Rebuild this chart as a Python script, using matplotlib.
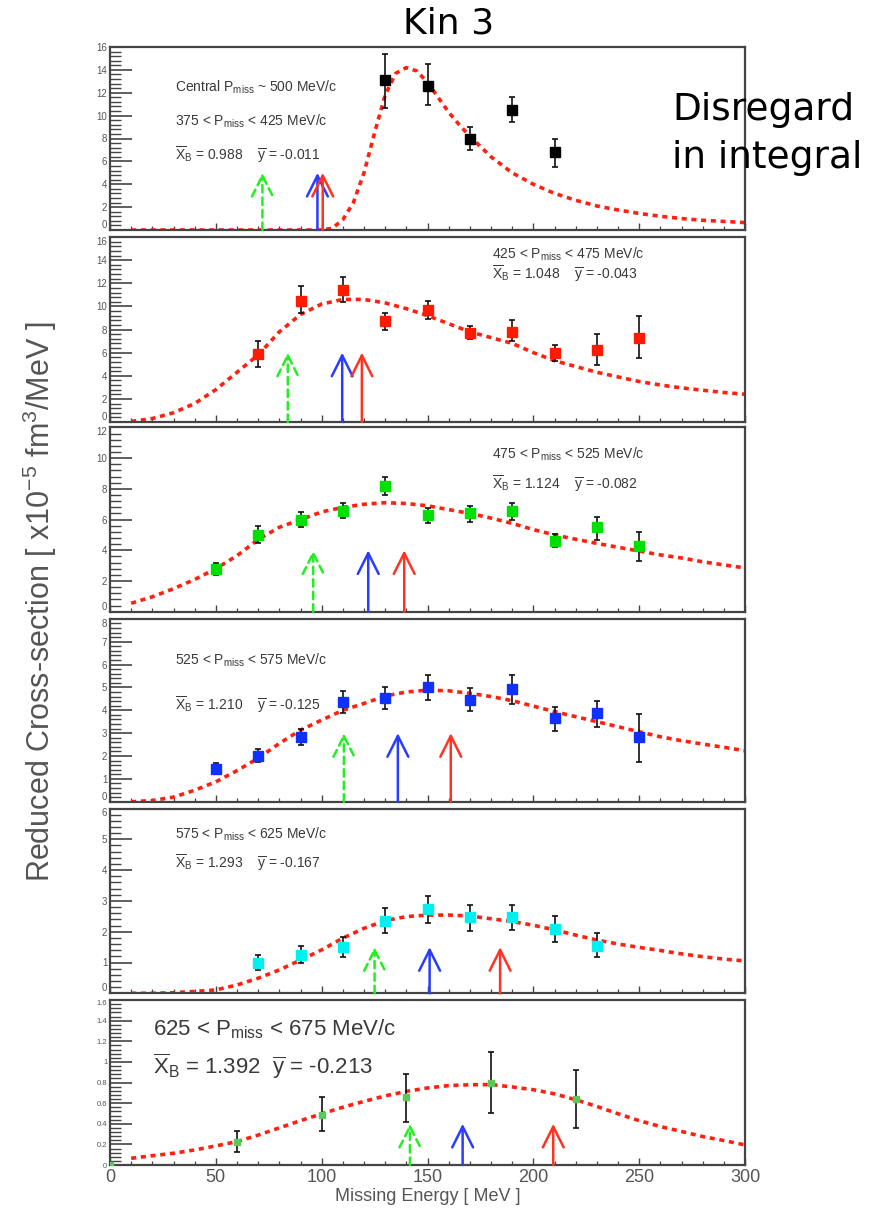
import matplotlib
matplotlib.use('Agg')
import matplotlib.pyplot as plt
from matplotlib.ticker import MultipleLocator, FormatStrFormatter

plt.rcParams['font.family'] = ['Liberation Sans', 'DejaVu Sans']
plt.rcParams['mathtext.fontset'] = 'custom'
plt.rcParams['mathtext.rm'] = 'Liberation Sans'
plt.rcParams['mathtext.it'] = 'Liberation Sans:italic'
plt.rcParams['mathtext.bf'] = 'Liberation Sans:bold'

# ---------------- data ----------------
p1_x = [130, 150, 170, 190, 210]
p1_y = [13.1, 12.6, 8.0, 10.5, 6.8]
p1_lo = [10.7, 10.9, 7.0, 9.4, 5.5]
p1_hi = [15.4, 14.5, 9.0, 11.6, 8.0]

p2_x = [70, 90, 110, 130, 150, 170, 190, 210, 230, 250]
p2_y = [5.9, 10.5, 11.4, 8.7, 9.7, 7.7, 7.8, 6.0, 6.2, 7.25]
p2_lo = [4.8, 9.4, 10.4, 8.0, 8.9, 7.2, 7.0, 5.3, 4.9, 5.5]
p2_hi = [7.0, 11.8, 12.5, 9.4, 10.5, 8.3, 8.8, 6.7, 7.6, 9.2]

p3_x = [50, 70, 90, 110, 130, 150, 170, 190, 210, 230, 250]
p3_y = [2.8, 5.0, 6.0, 6.55, 8.2, 6.28, 6.4, 6.56, 4.58, 5.5, 4.26]
p3_lo = [2.4, 4.5, 5.5, 6.1, 7.6, 5.76, 5.87, 6.0, 4.2, 4.7, 3.33]
p3_hi = [3.2, 5.6, 6.5, 7.1, 8.75, 6.77, 6.9, 7.05, 5.05, 6.2, 5.2]

p4_x = [50, 70, 90, 110, 130, 150, 170, 190, 210, 230, 250]
p4_y = [1.43, 2.0, 2.81, 4.34, 4.52, 5.0, 4.47, 4.91, 3.64, 3.86, 2.81]
p4_lo = [1.2, 1.75, 2.48, 3.89, 4.05, 4.47, 3.98, 4.27, 3.1, 3.25, 1.72]
p4_hi = [1.7, 2.29, 3.16, 4.84, 5.03, 5.54, 4.96, 5.54, 4.15, 4.4, 3.83]

p5_x = [70, 90, 110, 130, 150, 170, 190, 210, 230]
p5_y = [0.97, 1.24, 1.49, 2.36, 2.75, 2.47, 2.47, 2.09, 1.54]
p5_lo = [0.76, 0.97, 1.17, 1.97, 2.29, 2.03, 2.06, 1.68, 1.17]
p5_hi = [1.24, 1.52, 1.82, 2.76, 3.17, 2.87, 2.87, 2.51, 1.97]

p6_x = [0, 60, 100, 140, 180, 220]
p6_y = [0.0, 0.227, 0.487, 0.656, 0.795, 0.643]
p6_lo = [0.0, 0.123, 0.325, 0.42, 0.5, 0.357]
p6_hi = [0.0, 0.325, 0.66, 0.88, 1.1, 0.925]

p1_curve_x = [10, 20, 30, 40, 50, 60, 70, 80, 90, 100, 105, 110, 115, 120, 125,
              130, 135, 140, 145, 150, 155, 160, 165, 170, 180, 190, 200, 210,
              220, 230, 240, 250, 260, 270, 280, 290, 300]
p1_curve_y = [0, 0, 0, 0, 0, 0, 0, 0, 0, 0, 0.15, 0.9, 2.4, 5.0, 8.5,
              11.8, 13.7, 14.2, 13.9, 12.9, 11.6, 10.3, 9.2, 8.2, 6.4, 5.0, 4.0, 3.2,
              2.6, 2.1, 1.75, 1.45, 1.2, 1.0, 0.85, 0.75, 0.65]

curve_x = [10, 20, 30, 40, 50, 60, 70, 80, 90, 100, 110, 120, 130, 140, 150,
           160, 170, 180, 190, 200, 210, 220, 230, 240, 250, 260, 270, 280, 290, 300]
p2_curve_y = [0.05, 0.3, 0.8, 1.6, 2.8, 4.3, 5.8, 7.8, 9.3, 10.2, 10.6, 10.6, 10.3, 9.8, 9.2,
              8.5, 7.8, 7.3, 6.8, 6.0, 5.3, 4.8, 4.3, 3.9, 3.5, 3.2, 2.95, 2.75, 2.55, 2.4]
p3_curve_y = [0.55, 0.97, 1.5, 2.1, 2.8, 3.65, 4.7, 5.5, 6.0, 6.5, 6.8, 7.0, 7.1, 7.05, 6.9,
              6.65, 6.4, 6.1, 5.75, 5.35, 5.0, 4.72, 4.45, 4.2, 3.95, 3.7, 3.5, 3.25, 3.05, 2.85]
p4_curve_y = [0.0, 0.05, 0.2, 0.5, 0.87, 1.36, 1.9, 2.55, 3.13, 3.57, 4.0, 4.3, 4.62, 4.8, 4.88,
              4.85, 4.74, 4.6, 4.42, 4.18, 3.94, 3.72, 3.5, 3.28, 3.06, 2.84, 2.67, 2.52, 2.38, 2.23]
p5_curve_y = [0.0, 0.0, 0.02, 0.06, 0.11, 0.27, 0.49, 0.76, 1.08, 1.41, 1.79, 2.11, 2.36, 2.49, 2.54,
              2.54, 2.51, 2.42, 2.33, 2.21, 2.06, 1.89, 1.73, 1.6, 1.49, 1.39, 1.28, 1.19, 1.11, 1.05]
p6_curve_y = [0.065, 0.09, 0.114, 0.146, 0.185, 0.227, 0.29, 0.36, 0.43, 0.497, 0.56, 0.617, 0.67, 0.714, 0.747,
              0.77, 0.778, 0.78, 0.757, 0.73, 0.69, 0.633, 0.568, 0.497, 0.43, 0.373, 0.325, 0.276, 0.237, 0.195]

green_x = [72, 84, 96, 110.5, 125, 141.7]
blue_x = [98, 109.7, 122, 136, 151, 166.6]
red_x = [100.5, 119, 139, 161, 184.3, 209.4]
arrow_h = [5.0, 6.0, 4.0, 3.0, 1.5, 0.4]

y_max = [16, 16, 12, 8, 6, 1.6]
y_major = [2, 2, 2, 1, 1, 0.2]
y_minor = [0.4, 0.4, 0.4, 0.2, 0.2, 0.04]

marker_colors = ['#000000', '#ff1a00', '#00e000', '#1030ff', '#00f0f0', '#5cc85c']

range_labels = [r'375 < P$_{\mathrm{miss}}$ < 425 MeV/c',
                r'425 < P$_{\mathrm{miss}}$ < 475 MeV/c',
                r'475 < P$_{\mathrm{miss}}$ < 525 MeV/c',
                r'525 < P$_{\mathrm{miss}}$ < 575 MeV/c',
                r'575 < P$_{\mathrm{miss}}$ < 625 MeV/c',
                r'625 < P$_{\mathrm{miss}}$ < 675 MeV/c']
xb_values = ['0.988', '1.048', '1.124', '1.210', '1.293', '1.392']
ybar_values = ['-0.011', '-0.043', '-0.082', '-0.125', '-0.167', '-0.213']
central_label = r'Central P$_{\mathrm{miss}}$ ~ 500 MeV/c'

xs = [p1_x, p2_x, p3_x, p4_x, p5_x, p6_x]
ys = [p1_y, p2_y, p3_y, p4_y, p5_y, p6_y]
los = [p1_lo, p2_lo, p3_lo, p4_lo, p5_lo, p6_lo]
his = [p1_hi, p2_hi, p3_hi, p4_hi, p5_hi, p6_hi]
cxs = [p1_curve_x, curve_x, curve_x, curve_x, curve_x, curve_x]
cys = [p1_curve_y, p2_curve_y, p3_curve_y, p4_curve_y, p5_curve_y, p6_curve_y]

# ---------------- layout ----------------
W, H = 892, 1209
fig = plt.figure(figsize=(W / 100, H / 100), dpi=100)
tops = [47, 237, 427.5, 618.8, 808.5, 1000]
bottoms = [230, 422, 611.7, 801.7, 993.3, 1165]
left_px, right_px = 110, 745

txt_col = '#3a3a3a'
frame_col = '#444444'
small_fs = 10

for i in range(6):
    ax = fig.add_axes([left_px / W, 1 - bottoms[i] / H,
                       (right_px - left_px) / W, (bottoms[i] - tops[i]) / H])
    ax.set_xlim(0, 300)
    ax.set_ylim(0, y_max[i])
    for s in ax.spines.values():
        s.set_color(frame_col)
        s.set_linewidth(1.6)

    # curve
    ax.plot(cxs[i], cys[i], color='#ff2010', lw=2.6,
            linestyle=(0, (1.4, 1.3)), zorder=2)

    # data
    y = ys[i]
    yerr = [[a - b for a, b in zip(y, los[i])], [b - a for a, b in zip(y, his[i])]]
    ms = 4.5 if i == 5 else 6.5
    ax.errorbar(xs[i], y, yerr=yerr, fmt='s', color=marker_colors[i],
                ecolor='#111111', elinewidth=1.2, capsize=2.5, capthick=1.2,
                ms=ms, mec=marker_colors[i], zorder=4)

    # arrows
    h = arrow_h[i]
    astyle = '->,head_length=1.5,head_width=0.75'
    ax.annotate('', xy=(green_x[i], h), xytext=(green_x[i], 0),
                arrowprops=dict(arrowstyle=astyle, color='#22ee22', lw=1.8,
                                linestyle=(0, (3, 2)), shrinkA=0, shrinkB=0))
    ax.annotate('', xy=(blue_x[i], h), xytext=(blue_x[i], 0),
                arrowprops=dict(arrowstyle=astyle, color='#2a3cff', lw=1.8,
                                shrinkA=0, shrinkB=0), zorder=5)
    ax.annotate('', xy=(red_x[i], h), xytext=(red_x[i], 0),
                arrowprops=dict(arrowstyle=astyle, color='#ff3322', lw=1.8,
                                shrinkA=0, shrinkB=0), zorder=5)

    # ticks
    ax.yaxis.set_major_locator(MultipleLocator(y_major[i]))
    ax.yaxis.set_minor_locator(MultipleLocator(y_minor[i]))
    ax.yaxis.set_major_formatter(FormatStrFormatter('%g'))
    ax.xaxis.set_major_locator(MultipleLocator(50))
    ax.xaxis.set_minor_locator(MultipleLocator(10))
    ax.tick_params(axis='y', which='major', direction='in', length=16, width=1.2,
                   colors=frame_col, labelcolor='#555555',
                   labelsize=5.5 if i == 5 else 7, pad=2)
    ax.tick_params(axis='y', which='minor', direction='in', length=8, width=1.0,
                   colors=frame_col)
    ax.tick_params(axis='x', which='major', direction='in', length=5, width=1.0,
                   colors=frame_col, labelcolor='#555555', labelsize=13, pad=3)
    ax.tick_params(axis='x', which='minor', direction='in', length=3, width=0.9,
                   colors=frame_col)
    if i < 5:
        ax.tick_params(axis='x', labelbottom=False)
    else:
        ax.set_xlabel('Missing Energy [ MeV ]', fontsize=13, color='#555555', labelpad=1)

    # keep the end labels inside their own panel so neighbours do not collide
    fig.canvas.draw()
    for lab in ax.get_yticklabels():
        try:
            v = float(lab.get_text())
        except ValueError:
            continue
        if abs(v) < 1e-9 and i < 5:
            lab.set_va('bottom')
        elif abs(v - y_max[i]) < 1e-9 and i > 0:
            lab.set_va('top')

    # texts
    xbline = (r'$\overline{\mathrm{X}}_{\mathrm{B}}$ = ' + xb_values[i] +
              r'    $\overline{\mathrm{y}}$ = ' + ybar_values[i])
    if i == 0:
        ax.text(30.7, 12.5, central_label, fontsize=small_fs, color=txt_col, va='center')
        ax.text(30.7, 9.5, range_labels[i], fontsize=small_fs, color=txt_col, va='center')
        ax.text(30.7, 6.5, xbline, fontsize=small_fs, color=txt_col, va='center')
    elif i in (1, 2):
        yl = [14.5, 10.25][i - 1]
        yx = [12.75, 8.3][i - 1]
        ax.text(180.3, yl, range_labels[i], fontsize=small_fs, color=txt_col, va='center')
        ax.text(180.3, yx, xbline, fontsize=small_fs, color=txt_col, va='center')
    elif i in (3, 4):
        yl = [6.2, 5.16][i - 3]
        yx = [4.2, 4.22][i - 3]
        ax.text(30.7, yl, range_labels[i], fontsize=small_fs, color=txt_col, va='center')
        ax.text(30.7, yx, xbline, fontsize=small_fs, color=txt_col, va='center')
    else:
        xbline6 = (r'$\overline{\mathrm{X}}_{\mathrm{B}}$ = ' + xb_values[i] +
                   r'  $\overline{\mathrm{y}}$ = ' + ybar_values[i])
        ax.text(20.5, 1.32, range_labels[i], fontsize=16, color=txt_col, va='center')
        ax.text(20.5, 0.957, xbline6, fontsize=16, color=txt_col, va='center')

fig.text(40 / W, 1 - 602 / H,
         r'Reduced Cross-section [ x10$^{-5}$ fm$^{3}$/MeV ]',
         rotation=90, fontsize=22, color='#555555', ha='center', va='center')
fig.text(449 / W, 1 - 24 / H, 'Kin 3', fontsize=26, color='black',
         ha='center', va='center', family=['DejaVu Sans'])
fig.text(672 / W, 1 - 110 / H, 'Disregard', fontsize=27, color='black',
         ha='left', va='center', family=['DejaVu Sans'])
fig.text(672 / W, 1 - 158 / H, 'in integral', fontsize=27, color='black',
         ha='left', va='center', family=['DejaVu Sans'])

fig.savefig('out.png', dpi=100, facecolor='white')
